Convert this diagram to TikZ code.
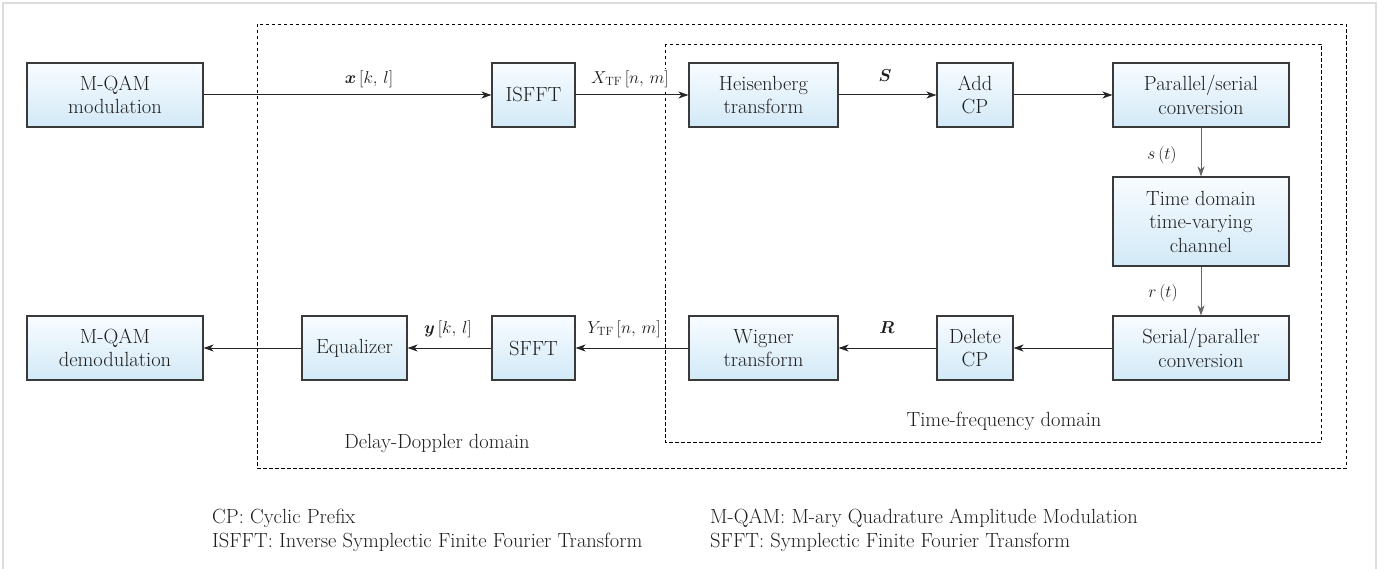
\documentclass[tikz,border=0pt]{standalone}
\usepackage{amsmath,bm}
\usetikzlibrary{arrows.meta}

\definecolor{boxtop}{HTML}{F8FCFF}
\definecolor{boxbot}{HTML}{D2E9F7}
\definecolor{boxline}{HTML}{3A3A3A}
\definecolor{framegray}{HTML}{DDDDDD}
\definecolor{ink}{HTML}{1E1E1E}

\tikzset{
  blk/.style={draw=boxline, line width=1.1pt, top color=boxtop, bottom color=boxbot,
              align=center, inner sep=0pt, text=ink, font=\fontsize{20.5}{23.5}\selectfont},
  flow/.style={draw=black!85, line width=1pt,
               -{Stealth[length=10pt,width=7pt,inset=2.8pt]}},
  vflow/.style={flow, draw=black!60},
  sig/.style={font=\fontsize{18.5}{22}\selectfont, inner sep=1pt, text=ink},
  region/.style={draw=black, line width=0.9pt, dash pattern=on 3.5pt off 2.5pt},
  domlabel/.style={font=\fontsize{20.5}{24}\selectfont, inner sep=0pt, text=ink},
  note/.style={font=\fontsize{20.5}{24}\selectfont, anchor=west, inner sep=0pt, text=ink}
}

\begin{document}
\begin{tikzpicture}[x=1pt, y=-1pt]
  \useasboundingbox (0,0) rectangle (1386,569);
  % light outer frame
  \draw[framegray, line width=2pt] (3,569) -- (3,3) -- (1376,3) -- (1376,569);

  % domain regions
  \draw[region] (257,24) rectangle (1346,468);
  \draw[region] (665,44) rectangle (1321,442);
  \node[domlabel] (dd) at (437,443) {Delay-Doppler domain};
  \node[domlabel] (tf) at (1004,421) {Time-frequency domain};

  % transmitter row
  \node[blk, minimum width=176pt, minimum height=64pt] (mod)   at (115,95)    {M-QAM\\modulation};
  \node[blk, minimum width=83pt,  minimum height=64pt] (isfft) at (533.5,95)  {ISFFT};
  \node[blk, minimum width=149pt, minimum height=64pt] (heis)  at (763.5,95)  {Heisenberg\\transform};
  \node[blk, minimum width=76pt,  minimum height=64pt] (addcp) at (975,95)    {Add\\CP};
  \node[blk, minimum width=176pt, minimum height=64pt] (ps)    at (1201,95)   {Parallel/serial\\conversion};

  % channel
  \node[blk, minimum width=176pt, minimum height=89pt] (chan)  at (1201,221.5) {Time domain\\time-varying\\channel};

  % receiver row
  \node[blk, minimum width=176pt, minimum height=64pt] (sp)    at (1201,348)  {Serial/paraller\\conversion};
  \node[blk, minimum width=76pt,  minimum height=64pt] (delcp) at (975,348)   {Delete\\CP};
  \node[blk, minimum width=149pt, minimum height=64pt] (wig)   at (763.5,348) {Wigner\\transform};
  \node[blk, minimum width=83pt,  minimum height=64pt] (sfft)  at (533.5,348) {SFFT};
  \node[blk, minimum width=105pt, minimum height=64pt] (eq)    at (354.5,348) {Equalizer};
  \node[blk, minimum width=176pt, minimum height=64pt] (demod) at (115,348)   {M-QAM\\demodulation};

  % connectors
  \draw[flow] (mod) -- (isfft);
  \draw[flow] (isfft) -- (heis);
  \draw[flow] (heis) -- (addcp);
  \draw[flow] (addcp) -- (ps);
  \draw[vflow] (ps) -- (chan);
  \draw[vflow] (chan) -- (sp);
  \draw[flow] (sp) -- (delcp);
  \draw[flow] (delcp) -- (wig);
  \draw[flow] (wig) -- (sfft);
  \draw[flow] (sfft) -- (eq);
  \draw[flow] (eq) -- (demod);

  % signal labels
  \node[sig] (xkl) at (369,79)   {$\bm{x}\,[k,\,l]$};
  \node[sig, fill=white] (xtf) at (630,79) {$X_{\mathrm{TF}}\,[n,\,m]$};
  \node[sig] (sS)  at (885,76)   {$\bm{S}$};
  \node[sig] (st)  at (1162,155) {$s\,(t)$};
  \node[sig] (rt)  at (1163,293) {$r\,(t)$};
  \node[sig] (sR)  at (887,328)  {$\bm{R}$};
  \node[sig] (ytf) at (624,329)  {$Y_{\mathrm{TF}}\,[n,\,m]$};
  \node[sig] (ykl) at (448,329)  {$\bm{y}\,[k,\,l]$};

  % abbreviations
  \node[note] (n1) at (212,518) {CP: Cyclic Prefix};
  \node[note] (n2) at (212,542) {ISFFT: Inverse Symplectic Finite Fourier Transform};
  \node[note] (n3) at (710,518) {M-QAM: M-ary Quadrature Amplitude Modulation};
  \node[note] (n4) at (710,542) {SFFT: Symplectic Finite Fourier Transform};
\end{tikzpicture}
\end{document}
